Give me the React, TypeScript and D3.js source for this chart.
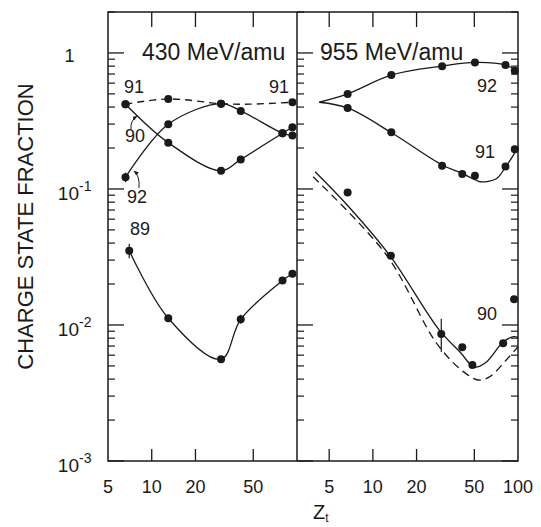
import React from "react";
import * as d3 from "d3";

// ---- charge state fractions, 430 MeV/amu (Z_t, fraction) ----
const z430 = [6.6, 13, 30, 41, 79.5, 93];
const q92_430 = [0.122, 0.299, 0.424, 0.375, 0.257, 0.247];
const q91_430 = [0.42, 0.459, 0.424, 0.434];
const z91_430 = [6.6, 13, 30, 93];
const q90_430 = [0.42, 0.219, 0.136, 0.165, 0.257, 0.284];
const z89_430 = [7.0, 13, 30, 41, 79.5, 93];
const q89_430 = [0.0352, 0.0112, 0.0056, 0.011, 0.0212, 0.0238];
// dashed guide through the 91 data
const fit91_430: [number, number][] = [[6.6, 0.42], [13, 0.459], [30, 0.424], [47, 0.42], [93, 0.434]];

// ---- charge state fractions, 955 MeV/amu ----
const z955 = [6.7, 13.4, 30, 41.3, 50.5, 82, 95];
const q92_955 = [0.5, 0.689, 0.8, null, 0.849, 0.816, 0.741];
const q91_955 = [0.394, 0.261, 0.148, 0.129, 0.125, 0.146, 0.196];
const z90_955 = [6.7, 13.3, 29.6, 41.3, 48.5, 79, 94];
const q90_955 = [0.094, 0.0323, 0.0086, 0.00686, 0.00508, 0.00733, 0.01545];

// calculated curves, 955 MeV/amu
const calc92_955: [number, number][] = [[4.27, 0.434], [6.7, 0.5], [13.5, 0.689], [30, 0.8], [50.5, 0.852], [82, 0.816], [100, 0.73]];
const calc91_955: [number, number][] = [[4.27, 0.434], [6.7, 0.394], [13.3, 0.261], [30, 0.15], [41.3, 0.13], [50.5, 0.117], [55, 0.113], [71, 0.119], [82, 0.145], [95, 0.184], [100, 0.205]];
const calc90_955: [number, number][] = [[4.0, 0.134], [6.65, 0.0762], [13.1, 0.0323], [28.6, 0.0092], [40, 0.0063], [50, 0.0049], [60, 0.0053], [79, 0.0075], [93, 0.0082], [100, 0.0081]];
const calc90b_955: [number, number][] = [[3.87, 0.123], [12.4, 0.0327], [27.5, 0.00733], [42, 0.00454], [53.4, 0.00394], [64, 0.00417], [83, 0.00553], [100, 0.00692]];

// error bars: [panel, Z, low, high]
const errBars: [string, number, number, number][] = [
  ["L", 6.6, 0.112, 0.132],
  ["L", 7.0, 0.031, 0.0395],
  ["L", 41, 0.0102, 0.0119],
  ["R", 30, 0.139, 0.158],
  ["R", 29.6, 0.00632, 0.0111],
];

const yTicksMajor = [1e-3, 1e-2, 1e-1, 1];
const xTicksLeft = [10, 20, 50];
const xTicksRight = [5, 10, 20, 50];
const xLabelsLeft = [5, 10, 20, 50];
const xLabelsRight = [5, 10, 20, 50, 100];

const FONT = "'Liberation Sans', Arial, sans-serif";
const INK = "#1a1a1a";

export default function App() {
  const top = 12, bottom = 461, x0 = 108, xm = 297, x1 = 518;
  const xL = d3.scaleLog().domain([5, 100]).range([x0, xm]);
  const xR = d3.scaleLog().domain([3, 100]).range([xm, x1]);
  const y = d3.scaleLog().domain([1e-3, 2]).range([bottom, top]);

  const curve = (xs: d3.ScaleLogarithmic<number, number>, pts: [number, number][]) =>
    d3.line<[number, number]>().x((d) => xs(d[0])).y((d) => y(d[1])).curve(d3.curveCatmullRom.alpha(0.5))(pts) || "";

  const zip = (zs: number[], vs: (number | null)[]) =>
    zs.map((z, i) => [z, vs[i]] as [number, number | null]).filter((d) => d[1] != null) as [number, number][];

  const minor: number[] = [];
  for (let e = -3; e <= 0; e++) for (let m = 2; m <= 9; m++) {
    const v = m * Math.pow(10, e);
    if (v <= 2) minor.push(v);
  }

  const dots = (xs: d3.ScaleLogarithmic<number, number>, pts: [number, number][], key: string) =>
    pts.map((d, i) => <circle key={key + i} cx={xs(d[0])} cy={y(d[1])} r={4} fill={INK} />);

  const yTickMarks = (x: number, dir: number, key: string) => (
    <g key={key}>
      {yTicksMajor.map((v) => <line key={"M" + v} x1={x} x2={x + dir * 16} y1={y(v)} y2={y(v)} stroke={INK} strokeWidth={1.3} />)}
      {minor.map((v) => <line key={"m" + v} x1={x} x2={x + dir * 7} y1={y(v)} y2={y(v)} stroke={INK} strokeWidth={1.2} />)}
    </g>
  );

  const yLabel = (v: number, exp: string | null) => {
    const ty = y(v);
    if (!exp) return <text key="one" x={69.5} y={ty + 9.5} fontSize={18} textAnchor="middle" fill={INK}>1</text>;
    return (
      <g key={exp}>
        <text x={79} y={ty + 11} fontSize={19} textAnchor="end" fill={INK}>10</text>
        <text x={79} y={ty + 2} fontSize={14} fill={INK}>{exp}</text>
      </g>
    );
  };

  return (
    <svg width={541} height={527} style={{ position: "absolute", left: 0, top: 0, background: "#fff" }} fontFamily={FONT}>
      <rect x={0} y={0} width={541} height={527} fill="#fff" />
      <defs>
        <marker id="ah" viewBox="0 0 10 10" refX="9" refY="5" markerWidth="5" markerHeight="5" orient="auto">
          <path d="M0,1 L10,5 L0,9 Z" fill={INK} />
        </marker>
      </defs>

      {/* frames */}
      <rect x={x0} y={top} width={x1 - x0} height={bottom - top} fill="none" stroke={INK} strokeWidth={1.5} />
      <line x1={xm} x2={xm} y1={top} y2={bottom} stroke={INK} strokeWidth={1.5} />

      {/* y ticks */}
      {yTickMarks(x0, 1, "yl")}
      {yTickMarks(xm, 1, "ym")}
      {yTickMarks(x1, -1, "yr")}

      {/* x ticks top and bottom */}
      {xTicksLeft.map((t) => (
        <g key={"xl" + t}>
          <line x1={xL(t)} x2={xL(t)} y1={top} y2={top + 15} stroke={INK} strokeWidth={1.3} />
          <line x1={xL(t)} x2={xL(t)} y1={bottom} y2={bottom - 12} stroke={INK} strokeWidth={1.3} />
        </g>
      ))}
      {xTicksRight.map((t) => (
        <g key={"xr" + t}>
          <line x1={xR(t)} x2={xR(t)} y1={top} y2={top + 15} stroke={INK} strokeWidth={1.3} />
          <line x1={xR(t)} x2={xR(t)} y1={bottom} y2={bottom - 12} stroke={INK} strokeWidth={1.3} />
        </g>
      ))}

      {/* tick labels */}
      {xLabelsLeft.map((t) => <text key={"lx" + t} x={xL(t)} y={493} fontSize={18} textAnchor="middle" fill={INK}>{t}</text>)}
      {xLabelsRight.map((t) => <text key={"rx" + t} x={xR(t)} y={493} fontSize={18} textAnchor="middle" fill={INK}>{t}</text>)}
      {yLabel(1, null)}
      {yLabel(1e-1, "-1")}
      {yLabel(1e-2, "-2")}
      {yLabel(1e-3, "-3")}

      {/* axis titles */}
      <text transform="translate(33,226.5) rotate(-90)" fontSize={22} textAnchor="middle" fill={INK}>CHARGE STATE FRACTION</text>
      <text x={313} y={519} fontSize={20} fill={INK}>Z<tspan fontSize={12} dy={3}>t</tspan></text>

      {/* panel titles */}
      <text x={142} y={60} fontSize={23} fill={INK}>430 MeV/amu</text>
      <text x={320} y={60} fontSize={23} fill={INK}>955 MeV/amu</text>

      {/* 430 MeV/amu curves */}
      <g fill="none" stroke={INK} strokeWidth={1.3}>
        <path d={curve(xL, fit91_430)} strokeDasharray="7 5" />
        <path d={curve(xL, zip(z430, q92_430))} />
        <path d={curve(xL, zip(z430, q90_430))} />
        <path d={curve(xL, zip(z89_430, q89_430))} />
      </g>
      {dots(xL, zip(z91_430, q91_430), "a")}
      {dots(xL, zip(z430, q92_430), "b")}
      {dots(xL, zip(z430, q90_430), "c")}
      {dots(xL, zip(z89_430, q89_430), "d")}

      {/* 955 MeV/amu curves */}
      <g fill="none" stroke={INK} strokeWidth={1.3}>
        <path d={curve(xR, calc92_955)} />
        <path d={curve(xR, calc91_955)} />
        <path d={curve(xR, calc90_955)} />
        <path d={curve(xR, calc90b_955)} strokeDasharray="8 5" />
      </g>
      {dots(xR, zip(z955, q92_955), "e")}
      {dots(xR, zip(z955, q91_955), "f")}
      {dots(xR, zip(z90_955, q90_955), "g")}

      {/* error bars */}
      {errBars.map(([p, z, lo, hi], i) => {
        const xs = p === "L" ? xL : xR;
        return <line key={"e" + i} x1={xs(z)} x2={xs(z)} y1={y(lo)} y2={y(hi)} stroke={INK} strokeWidth={1.2} />;
      })}

      {/* charge state labels */}
      <g fontSize={18} fill={INK}>
        <text x={124} y={93}>91</text>
        <text x={269} y={93}>91</text>
        <text x={125} y={142}>90</text>
        <text x={127} y={203}>92</text>
        <text x={130} y={235}>89</text>
        <text x={477} y={92}>92</text>
        <text x={475} y={158}>91</text>
        <text x={477} y={320}>90</text>
      </g>

      {/* leader arrows */}
      <path d="M131,129 Q130,121 137,116" fill="none" stroke={INK} strokeWidth={1} markerEnd="url(#ah)" />
      <path d="M139,188 Q140,176 134,171" fill="none" stroke={INK} strokeWidth={1} markerEnd="url(#ah)" />
    </svg>
  );
}
